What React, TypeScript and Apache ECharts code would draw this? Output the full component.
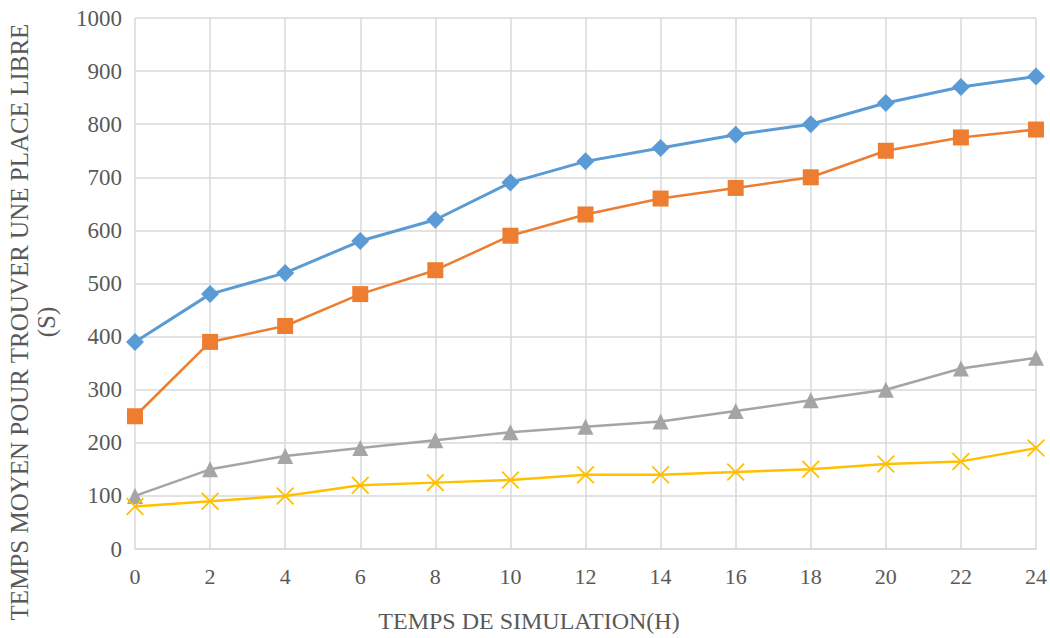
import React, { useEffect, useRef } from "react";
import * as echarts from "echarts";

const categories = ["0", "2", "4", "6", "8", "10", "12", "14", "16", "18", "20", "22", "24"];
const seriesBlue = [390, 480, 520, 580, 620, 690, 730, 755, 780, 800, 840, 870, 890];
const seriesOrange = [250, 390, 420, 480, 525, 590, 630, 660, 680, 700, 750, 775, 790];
const seriesGray = [100, 150, 175, 190, 205, 220, 230, 240, 260, 280, 300, 340, 360];
const seriesYellow = [80, 90, 100, 120, 125, 130, 140, 140, 145, 150, 160, 165, 190];
const yTitle = "TEMPS MOYEN POUR TROUVER UNE PLACE LIBRE\n(S)";
const xTitle = "TEMPS DE SIMULATION(H)";

const FONT = "'Liberation Serif', 'Times New Roman', serif";
const X_SYMBOL =
  "path://M0,0.7 L0.7,0 L10,9.3 L9.3,10 Z M9.3,0 L10,0.7 L0.7,10 L0,9.3 Z";

export default function App() {
  const ref = useRef<HTMLDivElement>(null);
  useEffect(() => {
    if (!ref.current) return;
    const chart = echarts.init(ref.current, null, { renderer: "svg" });
    chart.setOption({
      animation: false,
      backgroundColor: "#ffffff",
      grid: { left: 135, right: 14, top: 18, bottom: 89, containLabel: false },
      xAxis: {
        type: "category",
        data: categories,
        boundaryGap: false,
        axisLine: { show: true, lineStyle: { color: "#d9d9d9", width: 1.5 } },
        axisTick: { show: false },
        splitLine: { show: true, lineStyle: { color: "#d9d9d9", width: 1.5 } },
        axisLabel: { color: "#595959", fontFamily: FONT, fontSize: 22, margin: 16 },
      },
      yAxis: {
        type: "value",
        min: 0,
        max: 1000,
        interval: 100,
        axisLine: { show: false },
        axisTick: { show: false },
        splitLine: { show: true, lineStyle: { color: "#d9d9d9", width: 1.5 } },
        axisLabel: {
          color: "#595959",
          fontFamily: FONT,
          fontSize: 23,
          margin: 13,
          formatter: (v: number) => String(v),
        },
      },
      graphic: [
        {
          type: "text",
          x: 33,
          y: 322,
          rotation: Math.PI / 2,
          style: {
            text: yTitle,
            fill: "#595959",
            font: `25px ${FONT}`,
            align: "center",
            verticalAlign: "middle",
            lineHeight: 27,
          },
        },
        {
          type: "text",
          x: 529,
          y: 621,
          style: {
            text: xTitle,
            fill: "#595959",
            font: `24px ${FONT}`,
            align: "center",
            verticalAlign: "middle",
          },
        },
      ],
      series: [
        {
          type: "line",
          data: seriesBlue,
          symbol: "diamond",
          symbolSize: 18,
          lineStyle: { color: "#5B9BD5", width: 3 },
          itemStyle: { color: "#5B9BD5" },
        },
        {
          type: "line",
          data: seriesOrange,
          symbol: "rect",
          symbolSize: 16,
          lineStyle: { color: "#ED7D31", width: 2.5 },
          itemStyle: { color: "#ED7D31" },
        },
        {
          type: "line",
          data: seriesGray,
          symbol: "triangle",
          symbolSize: 16,
          lineStyle: { color: "#A5A5A5", width: 2.5 },
          itemStyle: { color: "#A5A5A5" },
        },
        {
          type: "line",
          data: seriesYellow,
          symbol: X_SYMBOL,
          symbolSize: 18,
          lineStyle: { color: "#FFC000", width: 2.5 },
          itemStyle: { color: "#FFC000" },
        },
      ],
    });
    return () => chart.dispose();
  }, []);
  return (
    <div
      ref={ref}
      style={{ position: "fixed", left: 0, top: 0, width: 1050, height: 638 }}
    />
  );
}
